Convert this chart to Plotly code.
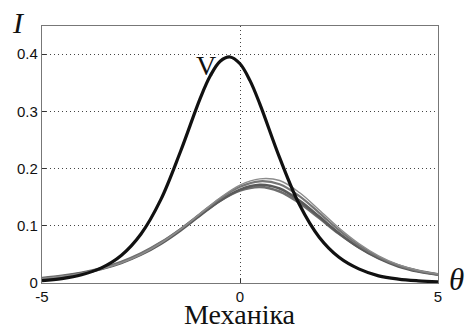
import plotly.graph_objects as go

theta = [-5, -4.5, -4, -3.5, -3, -2.5, -2, -1.5, -1, -0.75, -0.5, -0.25, 0, 0.25, 0.5, 1, 1.5, 2, 2.5, 3, 3.5, 4, 4.5, 5]
black_I = [0.0041, 0.0077, 0.0143, 0.0264, 0.0481, 0.0856, 0.1456, 0.2302, 0.3235, 0.362, 0.3875, 0.3949, 0.383, 0.354, 0.313, 0.219, 0.137, 0.080, 0.0449, 0.0246, 0.0125, 0.0068, 0.0038, 0.0020]

theta_g = [-5, -4.5, -4, -3.5, -3, -2.5, -2, -1.5, -1, -0.5, 0, 0.5, 1, 1.5, 2, 2.5, 3, 3.5, 4, 4.5, 5]
gray_a = [0.0078, 0.0114, 0.0168, 0.0244, 0.0350, 0.0495, 0.0685, 0.0920, 0.1185, 0.1440, 0.1632, 0.1717, 0.1650, 0.1440, 0.1160, 0.0870, 0.0622, 0.0430, 0.0290, 0.0200, 0.0143]
gray_b = [0.0079, 0.0116, 0.0171, 0.0249, 0.0358, 0.0507, 0.0703, 0.0943, 0.1212, 0.1475, 0.1681, 0.1777, 0.1724, 0.1517, 0.1226, 0.0923, 0.0660, 0.0454, 0.0305, 0.0210, 0.0150]
gray_c = [0.0076, 0.0113, 0.0168, 0.0245, 0.0352, 0.0500, 0.0697, 0.0940, 0.1215, 0.1490, 0.1712, 0.1820, 0.1790, 0.1580, 0.1275, 0.0960, 0.0690, 0.0475, 0.0320, 0.0220, 0.0158]
gray_d = [0.0085, 0.0124, 0.0180, 0.0258, 0.0368, 0.0515, 0.0708, 0.0940, 0.1198, 0.1440, 0.1615, 0.1678, 0.1600, 0.1400, 0.1135, 0.0860, 0.0625, 0.0440, 0.0305, 0.0212, 0.0152]

x_ticks = [-5, 0, 5]
y_ticks = [0, 0.1, 0.2, 0.3, 0.4]
y_tick_text = ["0", "0.1", "0.2", "0.3", "0.4"]

W, H = 467, 331
L, R, T, B = 42, 438, 26, 283

fig = go.Figure()
gray_specs = [(gray_d, "#6e6e6e", 2.6), (gray_a, "#5a5a5a", 2.6), (gray_b, "#767676", 2.2), (gray_c, "#8c8c8c", 1.4)]
for ys, col, w in gray_specs:
    fig.add_trace(go.Scatter(x=theta_g, y=ys, mode="lines", line=dict(color=col, width=w, shape="spline", smoothing=1.0), showlegend=False, hoverinfo="skip"))
fig.add_trace(go.Scatter(x=theta, y=black_I, mode="lines", line=dict(color="#111111", width=3.2, shape="spline", smoothing=1.0), showlegend=False, hoverinfo="skip"))

def px(xp):
    return (xp - L) / (R - L)

def py(yp):
    return (B - yp) / (B - T)

serif = "Liberation Serif, Times New Roman, serif"
annots = [
    dict(text="<i>I</i>", x=px(18), y=py(22), size=30, ya="middle"),
    dict(text="<i>θ</i>", x=px(456), y=py(279), size=31, ya="middle"),
    dict(text="Механіка", x=px(240), y=py(331), size=28, ya="bottom"),
    dict(text="V", x=px(206), y=py(65), size=28, ya="middle"),
]
for a in annots:
    fig.add_annotation(text=a["text"], x=a["x"], y=a["y"], xref="paper", yref="paper",
                       xanchor="center", yanchor=a["ya"], showarrow=False, borderpad=0,
                       font=dict(family=serif, size=a["size"], color="#111111"))

fig.update_layout(
    width=W, height=H,
    margin=dict(l=L, r=W - R, t=T, b=H - B, pad=0),
    paper_bgcolor="white", plot_bgcolor="white",
    font=dict(family="Liberation Sans, Arial, sans-serif", size=15, color="#111111"),
    xaxis=dict(range=[-5, 5], tickvals=x_ticks, ticktext=[str(v) for v in x_ticks],
               showgrid=True, gridcolor="#444444", griddash="1px,3px", gridwidth=1,
               showline=True, linecolor="#777777", linewidth=1.2, mirror=True,
               ticks="inside", ticklen=4, tickcolor="#333333", zeroline=False),
    yaxis=dict(range=[0, 0.449], tickvals=y_ticks, ticktext=y_tick_text,
               showgrid=True, gridcolor="#444444", griddash="1px,3px", gridwidth=1,
               showline=True, linecolor="#777777", linewidth=1.2, mirror=True,
               ticks="inside", ticklen=4, tickcolor="#333333", zeroline=False),
)

fig.write_html("out.html")
